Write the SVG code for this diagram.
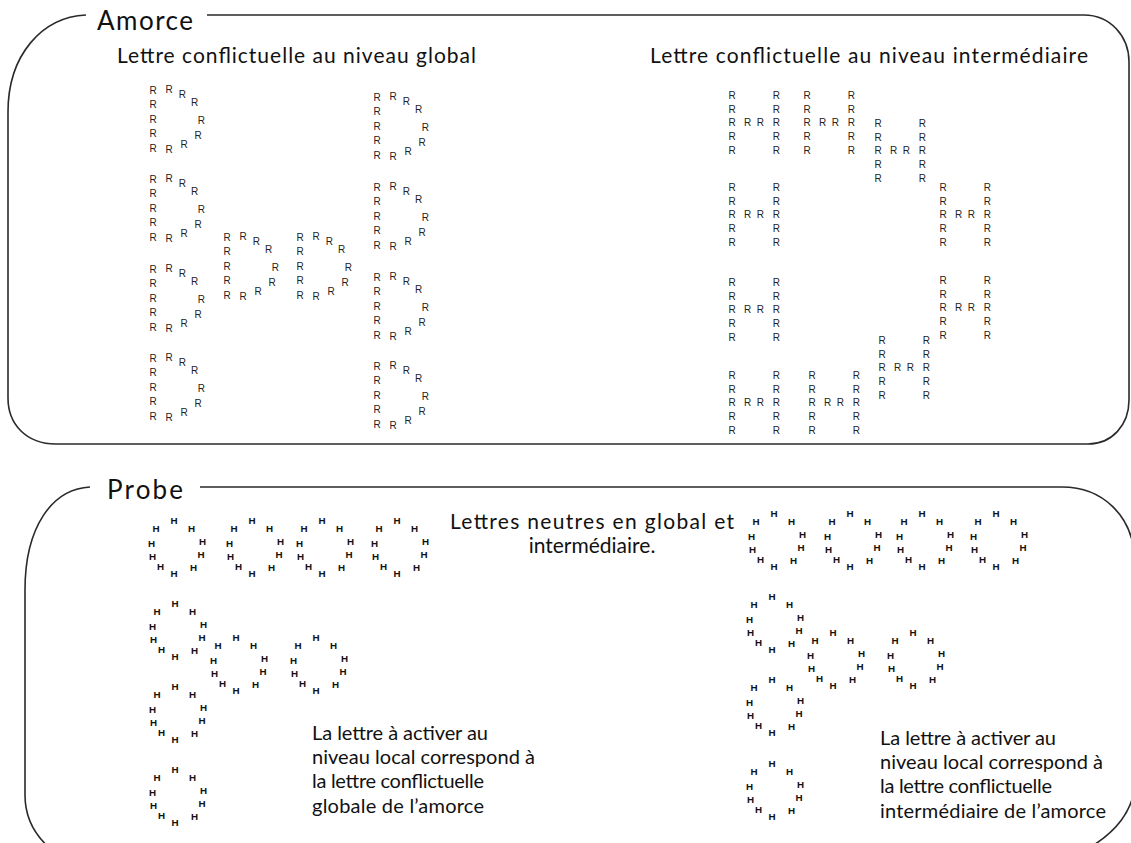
<svg xmlns="http://www.w3.org/2000/svg" width="1131" height="843" viewBox="0 0 1131 843">
<style>
.box{fill:none;stroke:#2a2a2a;stroke-width:1.6}
.r{font-family:"Liberation Sans",Arial,sans-serif;font-size:10px;fill:#222;text-anchor:middle}
.h{font-family:"Liberation Sans",Arial,sans-serif;font-size:9.8px;font-weight:bold;fill:#111;text-anchor:middle}
.t{font-family:Lato,"Open Sans",sans-serif;fill:#111}
.title{font-size:26px}
.lab{font-size:21px}
.note{font-size:20px}
</style>
<defs>
<g id="dR" class="r">
<text x="0" y="3.6">R</text><text x="0" y="17.6">R</text><text x="0" y="32.9">R</text><text x="0" y="46.9">R</text><text x="0" y="61.9">R</text>
<text x="16" y="2.9">R</text><text x="29.3" y="7.6">R</text><text x="41.7" y="16.3">R</text>
<text x="48.3" y="33.6">R</text><text x="45" y="48.6">R</text>
<text x="16" y="62.9">R</text><text x="31" y="57.9">R</text>
</g>
<g id="hR" class="r">
<text x="0" y="3.6">R</text><text x="0" y="17.9">R</text><text x="0" y="31.3">R</text><text x="0" y="45.3">R</text><text x="0" y="58.6">R</text>
<text x="44.3" y="3.6">R</text><text x="44.3" y="17.9">R</text><text x="44.3" y="31.3">R</text><text x="44.3" y="45.3">R</text><text x="44.3" y="58.6">R</text>
<text x="15.7" y="31.3">R</text><text x="28.3" y="31.3">R</text>
</g>
<g id="ring" class="h">
<text x="-18" y="11.7">H</text><text x="0" y="3.5">H</text><text x="17.5" y="11.7">H</text>
<text x="-22.5" y="26.7">H</text><text x="-21.5" y="40.2">H</text>
<text x="28.5" y="24.7">H</text><text x="27" y="38.2">H</text>
<text x="-13.5" y="49.9">H</text><text x="0" y="56.5">H</text><text x="19.5" y="50.5">H</text>
</g>
</defs>

<g id="amorce">
<path class="box" d="M86,15 C42,17 8,55 8,112 L8,398 C8,424 26,444 56,444 L1088,444 C1112,444 1129,425 1129,400 L1129,62 C1129,36 1110,15 1084,15 L207,15"/>
<text class="t title" x="97" y="30" textLength="96">Amorce</text>
</g>

<g id="global-label">
<text class="t lab" x="117" y="63" textLength="359">Lettre conflictuelle au niveau global</text>
</g>
<g id="global-letter">
<use href="#dR" x="153" y="90"/>
<use href="#dR" x="153" y="179"/>
<use href="#dR" x="153" y="269"/>
<use href="#dR" x="153" y="358"/>
<use href="#dR" x="377" y="97"/>
<use href="#dR" x="377" y="187"/>
<use href="#dR" x="377" y="277"/>
<use href="#dR" x="377" y="366"/>
<use href="#dR" x="227" y="237"/>
<use href="#dR" x="300" y="237"/>
</g>

<g id="intermediate-label">
<text class="t lab" x="650" y="63" textLength="438">Lettre conflictuelle au niveau intermédiaire</text>
</g>
<g id="intermediate-letter">
<use href="#hR" x="732" y="95"/>
<use href="#hR" x="807" y="95"/>
<use href="#hR" x="878" y="123"/>
<use href="#hR" x="943" y="187"/>
<use href="#hR" x="732" y="187"/>
<use href="#hR" x="732" y="282"/>
<use href="#hR" x="943" y="280"/>
<use href="#hR" x="882" y="340"/>
<use href="#hR" x="732" y="375"/>
<use href="#hR" x="812" y="375"/>
</g>

<g id="probe">
<path class="box" d="M90,487 C52,489 25,527 25,590 L25,795 C25,818 35,836 52,850 M200,487 L1062,487 C1102,487 1133,515 1135,560 L1135,780 C1135,810 1115,834 1085,850"/>
<text class="t title" x="107" y="499" textLength="76">Probe</text>
</g>

<g id="neutral-label">
<text class="t lab" x="592" y="529" text-anchor="middle" textLength="284">Lettres neutres en global et</text>
<text class="t lab" x="592" y="553" text-anchor="middle">intermédiaire.</text>
</g>

<g id="probe-left">
<use href="#ring" x="174" y="520"/>
<use href="#ring" x="252" y="520"/>
<use href="#ring" x="322" y="520"/>
<use href="#ring" x="397" y="520"/>
<use href="#ring" x="175" y="603"/>
<use href="#ring" x="236" y="637"/>
<use href="#ring" x="316" y="637"/>
<use href="#ring" x="175" y="686"/>
<use href="#ring" x="175" y="769"/>
</g>
<g id="probe-right">
<use href="#ring" x="774" y="513"/>
<use href="#ring" x="850" y="513"/>
<use href="#ring" x="922" y="513"/>
<use href="#ring" x="996" y="513"/>
<use href="#ring" x="772" y="596"/>
<use href="#ring" x="833" y="632"/>
<use href="#ring" x="913" y="632"/>
<use href="#ring" x="772" y="679"/>
<use href="#ring" x="772" y="763"/>
</g>

<g id="note-left">
<text class="t note" x="312" y="740" textLength="176">La lettre à activer au</text>
<text class="t note" x="312" y="764" textLength="223">niveau local correspond à</text>
<text class="t note" x="312" y="788" textLength="172">la lettre conflictuelle</text>
<text class="t note" x="312" y="813" textLength="172">globale de l’amorce</text>
</g>
<g id="note-right">
<text class="t note" x="880" y="745" textLength="176">La lettre à activer au</text>
<text class="t note" x="880" y="769" textLength="223">niveau local correspond à</text>
<text class="t note" x="880" y="793" textLength="172">la lettre conflictuelle</text>
<text class="t note" x="880" y="818" textLength="226">intermédiaire de l’amorce</text>
</g>
</svg>
